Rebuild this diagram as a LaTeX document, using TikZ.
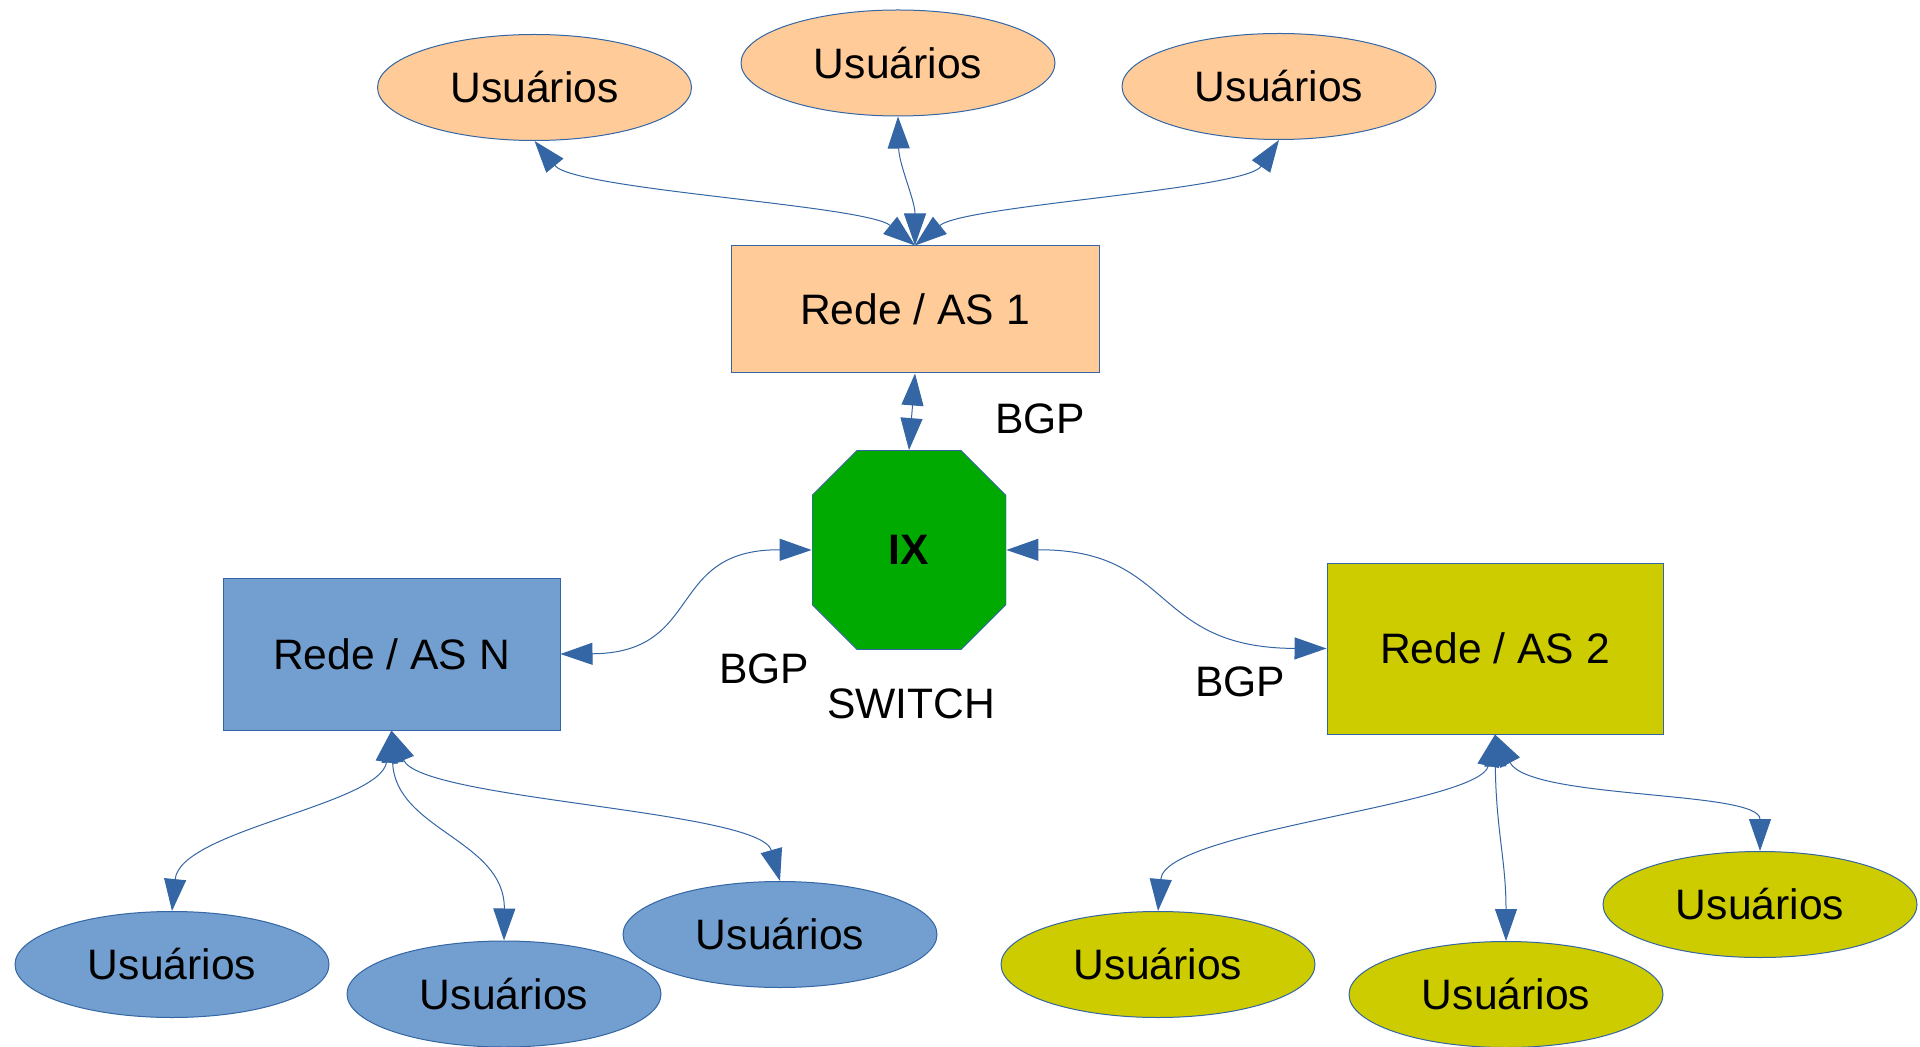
\documentclass[tikz,border=0pt]{standalone}
\usepackage{fontspec}
\setmainfont{Liberation Sans}
\usetikzlibrary{arrows.meta,shapes.geometric}
\definecolor{lineblue}{HTML}{3465A4}
\definecolor{peach}{HTML}{FFCC99}
\definecolor{skyblue}{HTML}{729FCF}
\definecolor{ixgreen}{HTML}{00AA00}
\definecolor{asyellow}{HTML}{CCCC00}
\newcommand\diagfont{\fontsize{21.3}{25.6}\selectfont}
\begin{document}
\begin{tikzpicture}[x=0.5pt,y=-0.5pt,
  lbl/.style={font=\diagfont, inner sep=0pt},
  usr/.style={ellipse, draw=lineblue, line width=0.5pt, minimum width=157pt, minimum height=53pt, inner sep=0pt, font=\diagfont},
  asbox/.style={rectangle, draw=lineblue, line width=0.5pt, inner sep=0pt, font=\diagfont},
  conn/.style={draw=lineblue, line width=0.5pt, {Triangle[length=16pt,width=11pt]}-{Triangle[length=16pt,width=11pt]}},
  ixshape/.style={rectangle, inner sep=0pt, minimum width=97pt, minimum height=99.5pt, font=\diagfont\bfseries,
    path picture={
      \fill[ixgreen, draw=lineblue, line width=0.5pt]
        ([xshift=22.5pt]path picture bounding box.north west) --
        ([xshift=-22.5pt]path picture bounding box.north east) --
        ([yshift=-22.5pt]path picture bounding box.north east) --
        ([yshift=22.5pt]path picture bounding box.south east) --
        ([xshift=-22.5pt]path picture bounding box.south east) --
        ([xshift=22.5pt]path picture bounding box.south west) --
        ([yshift=22.5pt]path picture bounding box.south west) --
        ([yshift=-22.5pt]path picture bounding box.north west) -- cycle;
    }}
]
\useasboundingbox (0,0) rectangle (1920,1047);

% top users
\node[usr, fill=peach] (u1) at (534.5,87.5) {Usuários};
\node[usr, fill=peach] (u2) at (898,63) {Usuários};
\node[usr, fill=peach] (u3) at (1279,86.5) {Usuários};

% networks
\node[asbox, fill=peach, minimum width=184pt, minimum height=63.5pt] (as1) at (915,309.5) {Rede / AS 1};
\node[asbox, fill=skyblue, minimum width=168.5pt, minimum height=76pt] (asn) at (391.5,654) {Rede / AS N};
\node[asbox, fill=asyellow, minimum width=168pt, minimum height=85.5pt] (as2) at (1495,648.5) {Rede / AS 2};

% IX
\node[ixshape] (ix) at (909,550) {IX};

% bottom users
\node[usr, fill=skyblue] (b1) at (172,964.5) {Usuários};
\node[usr, fill=skyblue] (b2) at (504,994) {Usuários};
\node[usr, fill=skyblue] (b3) at (780,934.5) {Usuários};
\node[usr, fill=asyellow] (y1) at (1158,964.5) {Usuários};
\node[usr, fill=asyellow] (y2) at (1506,994.5) {Usuários};
\node[usr, fill=asyellow] (y3) at (1760,904.5) {Usuários};

% labels
\node[lbl] (bgp1) at (1040,419) {BGP};
\node[lbl] (bgp2) at (764,668.5) {BGP};
\node[lbl] (sw) at (911,704) {SWITCH};
\node[lbl] (bgp3) at (1240,682) {BGP};

% connectors
\draw[conn] (as1.north) .. controls (865,205) and (575,190) .. (u1.south);
\draw[conn] (as1.north) .. controls (915,200) and (899,165) .. (u2.south);
\draw[conn] (as1.north) .. controls (965,205) and (1245,190) .. (u3.south);

\draw[conn] (as1.south) -- (ix.north);
\draw[conn] (ix.west) .. controls (665,549) and (705,653) .. (asn.east);
\draw[conn] (ix.east) .. controls (1175,549) and (1150,648) .. (as2.west);

\draw[conn] (asn.south) .. controls (380,805) and (180,830) .. (b1.north);
\draw[conn] (asn.south) .. controls (395,830) and (505,840) .. (b2.north);
\draw[conn] (asn.south) .. controls (420,800) and (760,810) .. (b3.north);

\draw[conn] (as2.south) .. controls (1480,805) and (1165,830) .. (y1.north);
\draw[conn] (as2.south) .. controls (1496,830) and (1506,860) .. (y2.north);
\draw[conn] (as2.south) .. controls (1530,800) and (1760,790) .. (y3.north);
\end{tikzpicture}
\end{document}
